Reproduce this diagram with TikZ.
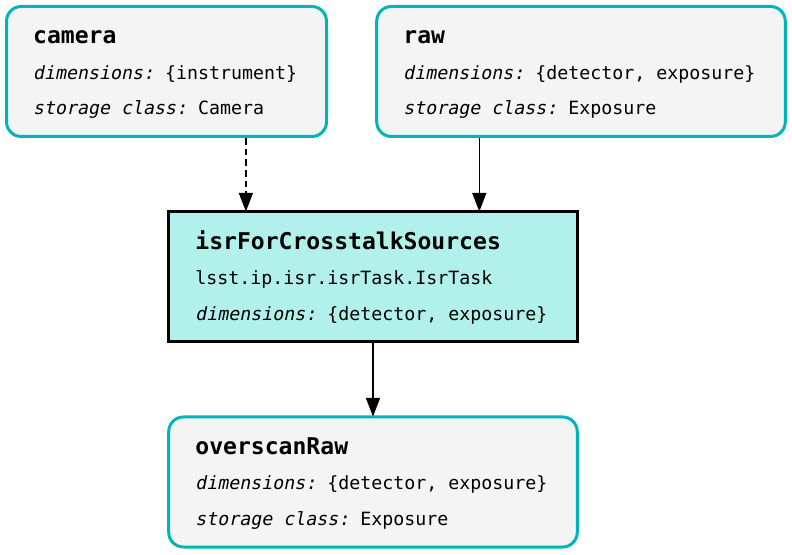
\documentclass[tikz,border=0pt]{standalone}
\usepackage{fontspec}
\setmainfont{DejaVu Sans Mono}[
    BoldFont={DejaVu Sans Mono Bold},
    ItalicFont={DejaVu Sans Mono},
    ItalicFeatures={FakeSlant=0.2}]
\usetikzlibrary{arrows.meta}
\definecolor{dsborder}{HTML}{00B5B8}
\definecolor{dsfill}{HTML}{F4F4F4}
\definecolor{taskfill}{HTML}{B2F0EC}
\tikzset{
    box/.style={line width=2.25pt, align=left, inner xsep=20pt, inner ysep=0pt,
        minimum height=97.5pt, font=\fontsize{13.7}{26.6}\selectfont,
        % fixed-width spaces for the mono font
        execute at begin node={\spaceskip=0.602em\xspaceskip=0.602em\relax}},
    dataset/.style={box, draw=dsborder, fill=dsfill, rounded corners=11pt},
    taskbox/.style={box, draw=black, fill=taskfill},
    flow/.style={-{Triangle[length=14pt,width=10.5pt]}, line width=1.1pt, shorten >=-0.8pt},
}
\newcommand{\ttl}[1]{\rule{0pt}{16.5pt}{\fontsize{17.3}{26}\selectfont\bfseries #1}}
\newcommand{\lbl}[1]{\textit{#1}}
\newcommand{\lastln}{\rule[-5pt]{0pt}{5pt}}
\begin{document}
\begin{tikzpicture}[x=0.75pt,y=-0.75pt]
    \useasboundingbox (0,0) rectangle (792,555);
    % datasets and task
    \node (camera) at (166.5,71.5) [dataset, text width=200pt]
        {\ttl{camera}\\ \lbl{dimensions:} \{instrument\}\\ \lbl{storage class:} Camera\lastln};
    \node (raw) at (581,71.5) [dataset, text width=266.4pt]
        {\ttl{raw}\\ \lbl{dimensions:} \{detector, exposure\}\\ \lbl{storage class:} Exposure\lastln};
    \node (task) at (373,277) [taskbox, text width=266.4pt]
        {\ttl{isrForCrosstalkSources}\\ lsst.ip.isr.isrTask.IsrTask\\ \lbl{dimensions:} \{detector, exposure\}\lastln};
    \node (overscan) at (373,482) [dataset, text width=266.4pt]
        {\ttl{overscanRaw}\\ \lbl{dimensions:} \{detector, exposure\}\\ \lbl{storage class:} Exposure\lastln};

    % connectors
    \coordinate (camin) at ([xshift=59pt]task.north west);
    \coordinate (rawin) at ([xshift=-74.6pt]task.north east);
    \draw[flow, dash pattern=on 5pt off 3pt] (camera.south -| camin) -- (camin);
    \draw[flow] (raw.south -| rawin) -- (rawin);
    \draw[flow] (task.south) -- (overscan.north);
\end{tikzpicture}
\end{document}
